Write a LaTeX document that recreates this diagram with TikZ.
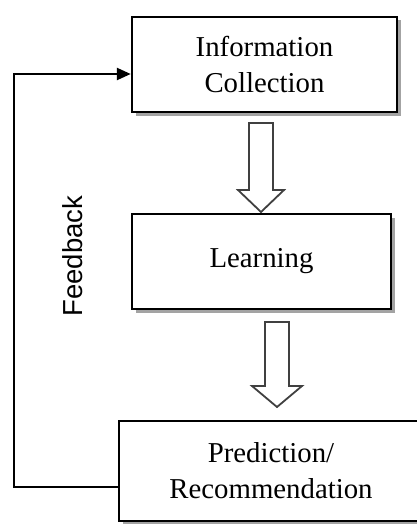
\documentclass[tikz,border=0pt]{standalone}
\usepackage{fontspec}
\setmainfont{Liberation Serif}
\newfontfamily\labelsans{Liberation Sans}
\usetikzlibrary{shadows,arrows.meta}

\tikzset{
  stagebox/.style={draw=black, line width=2.4pt, fill=white, align=center,
    inner sep=0pt,
    font=\fontsize{28.8}{36}\selectfont,
    drop shadow={shadow xshift=3.5pt, shadow yshift=-3.5pt, fill=black!45, opacity=0.8}},
  hollowarrow/.style={draw=black!75, line width=1.8pt, fill=white, line join=miter},
  loopline/.style={line width=2.4pt, -{Triangle[length=14pt,width=12pt]}}
}

\begin{document}
\begin{tikzpicture}[x=1pt,y=-1pt]
  \useasboundingbox (0,0) rectangle (417,524);
  \clip (0,0) rectangle (417,524);

  % stages of the cycle
  \node[stagebox, minimum width=265pt, minimum height=95pt] (collect)
    at (264.5,64.5) {Information\\Collection};
  \node[stagebox, minimum width=259pt, minimum height=95pt] (learn)
    at (261.5,261.5) {Learning};
  \node[stagebox, minimum width=304pt, minimum height=100pt] (predict)
    at (271,471) {Prediction/\\Recommendation};

  % block arrows between stages: shaft of width w, head of width h
  \coordinate (tipA) at (261,212);
  \draw[hollowarrow] (tipA) -- ++(-23,-22) -- ++(11,0) -- ++(0,-67)
    -- ++(24,0) -- ++(0,67) -- ++(11,0) -- cycle;
  \coordinate (tipB) at (277,407);
  \draw[hollowarrow] (tipB) -- ++(-25,-21) -- ++(13,0) -- ++(0,-64)
    -- ++(24,0) -- ++(0,64) -- ++(13,0) -- cycle;

  % feedback loop back to the start
  \coordinate (loopcorner) at (14,487);
  \draw[loopline] (predict.west |- loopcorner) -- (loopcorner)
    |- ([yshift=-9.5pt]collect.west);
  \node[rotate=90, font=\labelsans\fontsize{27.5}{33}\selectfont] (fb)
    at (73,256) {Feedback};
\end{tikzpicture}
\end{document}
